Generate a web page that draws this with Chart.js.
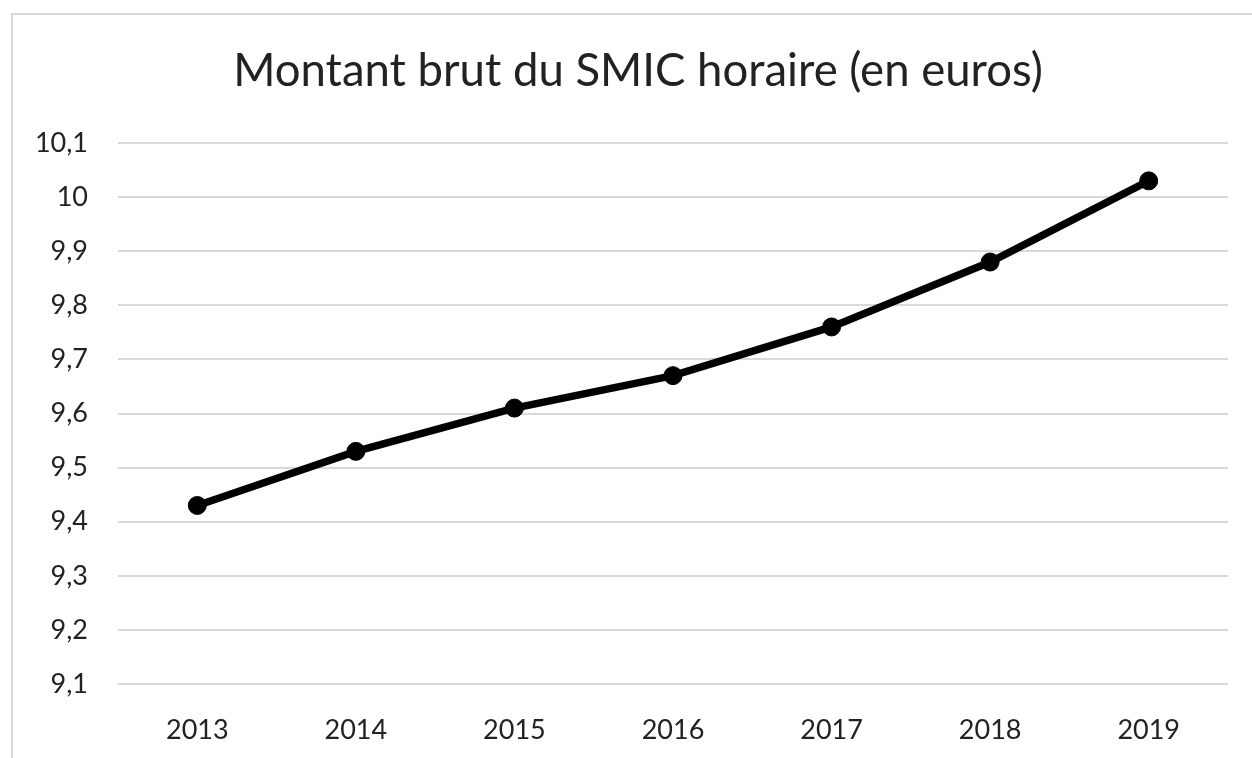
<!DOCTYPE html>
<html>
<head>
<meta charset="utf-8">
<script src="https://cdn.jsdelivr.net/npm/chart.js@4"></script>
<style>
  html, body { margin: 0; padding: 0; background: #fff; overflow: hidden; }
  #wrap { position: relative; width: 1252px; height: 758px; }
  #frame { position: absolute; left: 11px; top: 13px; width: 1300px; height: 800px; border: 2px solid #d9d9d9; box-sizing: border-box; }
  canvas { position: absolute; left: 0; top: 0; }
</style>
</head>
<body>
<div id="wrap">
  <div id="frame"></div>
  <canvas id="chart" width="1252" height="758"></canvas>
</div>
<script>
const years = ["2013", "2014", "2015", "2016", "2017", "2018", "2019"];
const smicHoraire = [9.43, 9.53, 9.61, 9.67, 9.76, 9.88, 10.03];
const yMin = 9.1;
const yMax = 10.1;
const yStep = 0.1;

const textColor = "#222";
const fontFamily = "Lato, 'Open Sans', sans-serif";

function formatFr(v) {
  return (Math.round(v * 10) / 10).toString().replace(".", ",");
}

document.addEventListener("DOMContentLoaded", () => {
  const ctx = document.getElementById("chart").getContext("2d");
  new Chart(ctx, {
    type: "line",
    data: {
      labels: years,
      datasets: [{
        data: smicHoraire,
        borderColor: "#000",
        backgroundColor: "#000",
        borderWidth: 7.5,
        pointRadius: 9,
        pointBorderWidth: 1,
        pointBackgroundColor: "#000",
        tension: 0
      }]
    },
    options: {
      responsive: false,
      animation: false,
      // title is centred on the frame, so shift the whole layout right
      // and keep the right margin with an empty axis
      layout: { padding: { left: 24, right: 0, top: 0, bottom: 0 } },
      plugins: {
        legend: { display: false },
        tooltip: { enabled: false },
        title: {
          display: true,
          text: "Montant brut du SMIC horaire (en euros)",
          color: textColor,
          font: { family: fontFamily, size: 45.5, weight: "normal", lineHeight: 1.2 },
          padding: { top: 44, bottom: 44.4 }
        }
      },
      scales: {
        x: {
          offset: true,
          grid: { display: false },
          border: { display: false },
          ticks: { color: textColor, font: { family: fontFamily, size: 27 }, padding: 22 },
          afterFit: (axis) => { axis.height = 74; }
        },
        y: {
          min: yMin,
          max: yMax,
          grid: { color: "#d9d9d9", lineWidth: 2, drawTicks: false },
          border: { display: false },
          ticks: {
            stepSize: yStep,
            color: textColor,
            font: { family: fontFamily, size: 27 },
            padding: 30,
            callback: (v) => formatFr(v)
          },
          afterFit: (axis) => { axis.width = 94; }
        },
        spacer: {
          position: "right",
          grid: { display: false },
          border: { display: false },
          ticks: { display: false },
          afterFit: (axis) => { axis.width = 24; }
        }
      }
    }
  });
});
</script>
</body>
</html>
